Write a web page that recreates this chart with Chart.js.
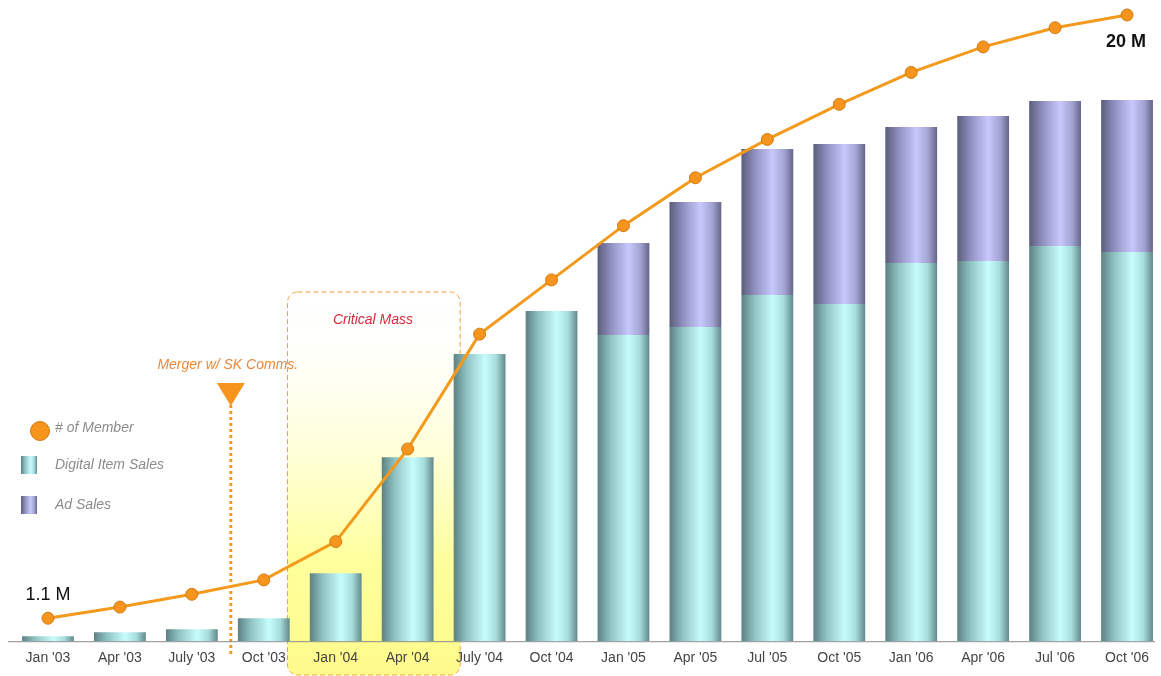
<!DOCTYPE html>
<html>
<head>
<meta charset="utf-8">
<script src="https://cdn.jsdelivr.net/npm/chart.js@4.4.1/dist/chart.umd.min.js"></script>
<style>
  html, body { margin: 0; padding: 0; background: #fff; overflow: hidden; }
  #wrap { width: 1170px; height: 676px; position: relative; }
</style>
</head>
<body>
<div id="wrap"><canvas id="chart"></canvas></div>
<script>
// ── Data ───────────────────────────────────────────────
const quarters = ["Jan '03", "Apr '03", "July '03", "Oct '03", "Jan '04", "Apr '04", "July '04", "Oct '04",
                  "Jan '05", "Apr '05", "Jul '05", "Oct '05", "Jan '06", "Apr '06", "Jul '06", "Oct '06"];
// relative sales (no axis in the original, read as bar heights)
const digitalSales = [5, 9, 12, 23, 68, 184, 287, 330, 306, 314, 346, 337, 378, 380, 395, 389];
const adSales      = [0, 0, 0, 0, 0, 0, 0, 0, 92, 125, 146, 160, 136, 145, 145, 152];
// members, millions
const members      = [1.1, 1.45, 1.85, 2.3, 3.5, 6.4, 10.0, 11.7, 13.4, 14.9, 16.1, 17.2, 18.2, 19.0, 19.6, 20.0];

const ORANGE = '#f39a1c';
const BAR_RATIO = 0.72;

// ── Gradient helpers ───────────────────────────────────
const TEAL   = [[0, '#5c8282'], [0.25, '#8fc2c2'], [0.6, '#c8fdfd'], [0.82, '#a6dcdc'], [1, '#628888']];
const PURPLE = [[0, '#5c5c7e'], [0.28, '#9494c4'], [0.6, '#c8c8fd'], [0.84, '#a0a0d0'], [1, '#646488']];

function barGradient(ctx, stops) {
    const chart = ctx.chart;
    const xs = chart.scales.x;
    if (!xs || !chart.chartArea || ctx.dataIndex === undefined) return stops[2][1];
    const cx = xs.getPixelForValue(ctx.dataIndex);
    const w = xs.width / quarters.length * BAR_RATIO;
    const g = chart.ctx.createLinearGradient(cx - w / 2, 0, cx + w / 2, 0);
    stops.forEach(s => g.addColorStop(s[0], s[1]));
    return g;
}

// ── Annotations ────────────────────────────────────────
const annotations = {
    id: 'annotations',
    beforeDraw(chart) {
        const c = chart.ctx, xs = chart.scales.x;
        const step = xs.width / quarters.length;
        const base = chart.chartArea.bottom;

        // critical mass box
        const x0 = xs.getPixelForValue(4) - step * 0.67;
        const x1 = xs.getPixelForValue(5) + step * 0.73;
        const y0 = 292, y1 = 676;
        c.save();
        const g = c.createLinearGradient(0, y0, 0, y1);
        g.addColorStop(0, 'rgba(255,255,255,0)');
        g.addColorStop(0.3, 'rgba(255,255,220,0.6)');
        g.addColorStop(0.7, 'rgba(255,255,150,0.95)');
        g.addColorStop(1, 'rgba(255,250,140,1)');
        c.beginPath();
        c.roundRect(x0, y0, x1 - x0, y1 - y0 - 1, 10);
        c.fillStyle = g;
        c.fill();
        c.setLineDash([5, 3]);
        c.strokeStyle = '#f0a040';
        c.lineWidth = 1;
        c.stroke();
        c.restore();

        // merger dotted line
        const mx = (xs.getPixelForValue(2) + xs.getPixelForValue(3)) / 2 + 3;
        c.save();
        c.setLineDash([3, 3]);
        c.strokeStyle = ORANGE;
        c.lineWidth = 3;
        c.beginPath();
        c.moveTo(mx, 405);
        c.lineTo(mx, 656);
        c.stroke();
        c.restore();

        // baseline
        c.save();
        c.strokeStyle = '#8a8a8a';
        c.lineWidth = 1;
        c.beginPath();
        c.moveTo(8, base + 0.5);
        c.lineTo(1155, base + 0.5);
        c.stroke();
        c.restore();
    },
    afterDatasetsDraw(chart) {
        const c = chart.ctx, xs = chart.scales.x;
        const mx = (xs.getPixelForValue(2) + xs.getPixelForValue(3)) / 2 + 3;
        c.save();
        // triangle
        c.fillStyle = '#f7941d';
        c.beginPath();
        c.moveTo(mx - 14, 383);
        c.lineTo(mx + 14, 383);
        c.lineTo(mx, 406);
        c.closePath();
        c.fill();

        c.textAlign = 'center';
        c.textBaseline = 'middle';
        c.font = 'italic 14px "Liberation Sans", Arial, sans-serif';
        c.fillStyle = '#e8893a';
        c.fillText('Merger w/ SK Comms.', mx - 3, 365);
        c.fillStyle = '#d42a3c';
        c.fillText('Critical Mass', 373, 320);

        c.font = '18px "Liberation Sans", Arial, sans-serif';
        c.fillStyle = '#111';
        c.fillText('1.1 M', 48, 595);
        c.font = 'bold 18px "Liberation Sans", Arial, sans-serif';
        c.fillText('20 M', 1126, 42);

        // legend
        c.fillStyle = '#f7941d';
        c.strokeStyle = '#d07a10';
        c.beginPath();
        c.arc(40, 431, 9.5, 0, Math.PI * 2);
        c.fill();
        c.stroke();
        const ig1 = c.createLinearGradient(21, 0, 37, 0);
        TEAL.forEach(s => ig1.addColorStop(s[0], s[1]));
        c.fillStyle = ig1;
        c.fillRect(21, 456, 16, 18);
        const ig2 = c.createLinearGradient(21, 0, 37, 0);
        PURPLE.forEach(s => ig2.addColorStop(s[0], s[1]));
        c.fillStyle = ig2;
        c.fillRect(21, 496, 16, 18);

        c.textAlign = 'left';
        c.font = 'italic 14px "Liberation Sans", Arial, sans-serif';
        c.fillStyle = '#8c8c8c';
        c.fillText('# of Member', 55, 428);
        c.fillText('Digital Item Sales', 55, 465);
        c.fillText('Ad Sales', 55, 505);
        c.restore();
    }
};

// ── Chart ──────────────────────────────────────────────
new Chart(document.getElementById('chart'), {
    data: {
        labels: quarters,
        datasets: [
            {
                type: 'line',
                label: '# of Member',
                data: members,
                yAxisID: 'y1',
                borderColor: ORANGE,
                borderWidth: 3,
                pointRadius: 6,
                pointBackgroundColor: '#f7941d',
                pointBorderColor: '#cf7d12',
                pointBorderWidth: 1,
                tension: 0,
                order: 0
            },
            {
                type: 'bar',
                label: 'Digital Item Sales',
                data: digitalSales,
                backgroundColor: ctx => barGradient(ctx, TEAL),
                barPercentage: 1,
                categoryPercentage: BAR_RATIO,
                order: 1
            },
            {
                type: 'bar',
                label: 'Ad Sales',
                data: adSales,
                backgroundColor: ctx => barGradient(ctx, PURPLE),
                barPercentage: 1,
                categoryPercentage: BAR_RATIO,
                order: 2
            }
        ]
    },
    options: {
        responsive: true,
        maintainAspectRatio: false,
        animation: false,
        layout: { padding: { left: 12, right: 4, top: 1, bottom: 8 } },
        plugins: { legend: { display: false }, tooltip: { enabled: false } },
        scales: {
            x: {
                stacked: true,
                grid: { display: false },
                border: { display: false },
                ticks: {
                    autoSkip: false,
                    maxRotation: 0,
                    padding: 1,
                    color: '#444',
                    font: { family: '"Liberation Sans", Arial, sans-serif', size: 14 }
                }
            },
            y: { stacked: true, display: false, min: 0, max: 634 },
            y1: { display: false, min: 0.38, max: 20.25 }
        }
    },
    plugins: [annotations]
});
</script>
</body>
</html>
